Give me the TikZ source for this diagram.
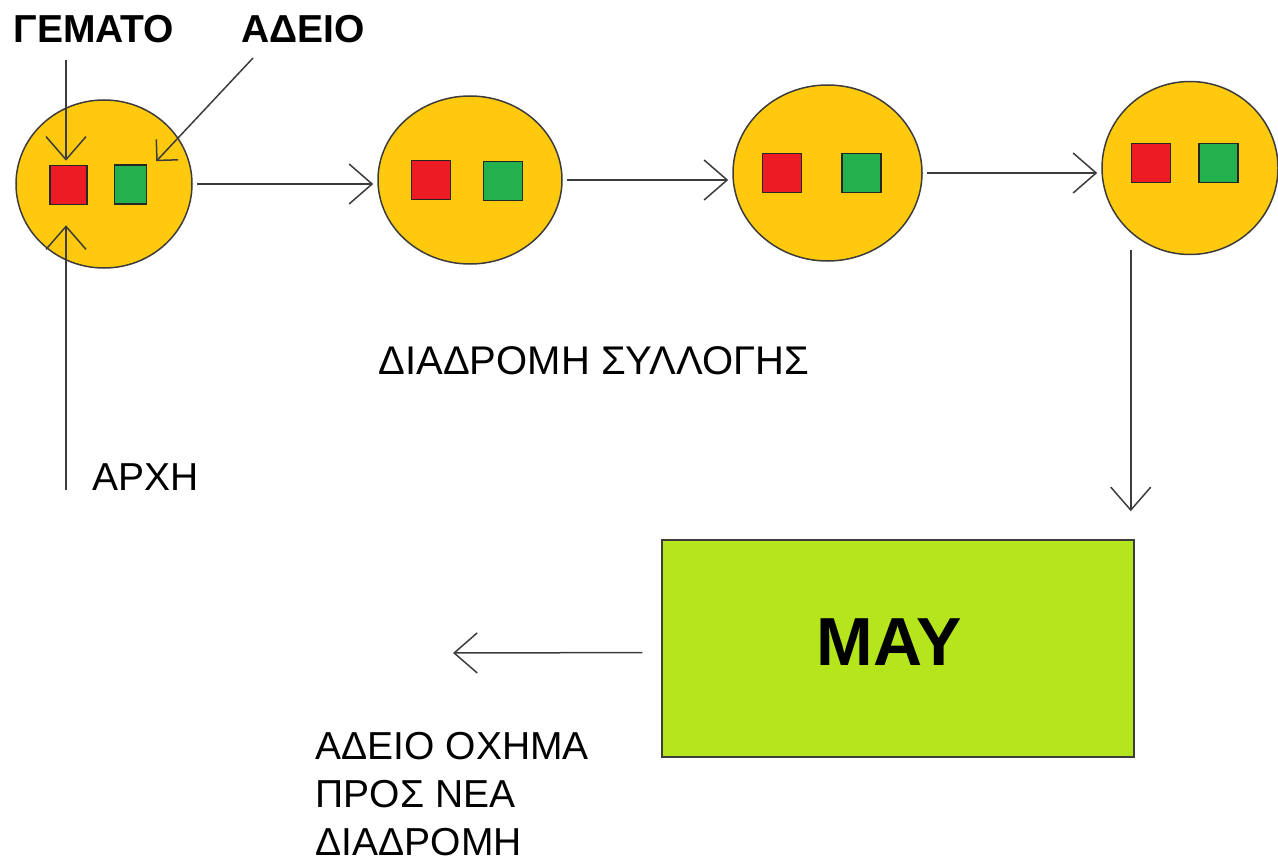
\documentclass[tikz,border=0pt]{standalone}
\usepackage{fontspec}
\setmainfont{Liberation Sans}
\usetikzlibrary{arrows.meta, positioning, shapes.geometric}

\definecolor{binorange}{HTML}{FFC90E}
\definecolor{fullred}{HTML}{ED1C24}
\definecolor{emptygreen}{HTML}{22B14C}
\definecolor{depotlime}{HTML}{B5E61D}
\definecolor{linegray}{HTML}{3C3C3C}

\begin{document}
\begin{tikzpicture}[x=0.5pt,y=-0.5pt,line width=0.75pt,
        flow/.style={linegray,shorten >=2pt,-{Straight Barb[length=11.5pt,width=20pt]}},
        pointer/.style={linegray,-{Straight Barb[length=7.5pt,width=15pt]}},
        stop/.style={ellipse,draw=linegray,fill=binorange,inner sep=0pt},
        bin/.style={draw=black!85,minimum width=19.5pt,minimum height=19.5pt,inner sep=0pt},
        fullbin/.style={bin,fill=fullred},
        emptybin/.style={bin,fill=emptygreen},
        greek/.style={font=\fontsize{19.5}{24}\selectfont,inner sep=0pt}]

      \useasboundingbox (0,0) rectangle (1278,861);

      % collection stops
      \node[stop,minimum width=88pt,minimum height=84pt]   (c1) at (104,184)   {};
      \node[stop,minimum width=92pt,minimum height=84pt]   (c2) at (470,180)   {};
      \node[stop,minimum width=94.5pt,minimum height=88pt] (c3) at (827.5,173) {};
      \node[stop,minimum width=88pt,minimum height=86.5pt] (c4) at (1190,168)  {};

      \node[fullbin,minimum width=18.5pt]  (r1) at (68.5,185)  {};
      \node[emptybin,minimum width=16pt]   (g1) at (130.5,184.5) {};
      \node[fullbin]  (r2) at (431,180)   {};
      \node[emptybin] (g2) at (503,181)   {};
      \node[fullbin]  (r3) at (782,173)   {};
      \node[emptybin] (g3) at (861.5,173) {};
      \node[fullbin]  (r4) at (1151,163)  {};
      \node[emptybin] (g4) at (1218.5,163) {};

      % depot
      \node[draw=linegray,fill=depotlime,minimum width=236pt,minimum height=108.5pt] (depot) at (898,648.5) {};
      \node[font=\bfseries\fontsize{34}{40}\selectfont,inner sep=0pt] (may) at (889,642) {ΜΑΥ};

      % labels
      \node[greek,font=\bfseries\fontsize{19.5}{24}\selectfont,anchor=base west] (full)  at (13,43)  {ΓΕΜΑΤΟ};
      \node[greek,font=\bfseries\fontsize{19.5}{24}\selectfont,anchor=base west] (empty) at (241,43) {ΑΔΕΙΟ};
      \node[greek,anchor=base west] (start) at (92,490)  {ΑΡΧΗ};
      \node[greek,anchor=base west,font=\fontsize{20}{24}\selectfont] (route) at (378,374) {ΔΙΑΔΡΟΜΗ ΣΥΛΛΟΓΗΣ};
      \node[greek,anchor=north west,align=left] (back) at (315,732)
            {ΑΔΕΙΟ ΟΧΗΜΑ\\ΠΡΟΣ ΝΕΑ\\ΔΙΑΔΡΟΜΗ};

      \coordinate (fulltail)  at (66,60);
      \coordinate (emptytail) at (253,58);
      \coordinate (starttail) at (66,490);
      \coordinate (backtip)   at (453,653);

      % route
      \path[flow,shorten <=2pt] (c1.east) edge (c1.east -| c2.west)
                                (c2.east) edge (c2.east -| c3.west)
                                (c3.east) edge (c3.east -| c4.west);
      \draw[flow,shorten >=14pt] ([xshift=-2pt,yshift=2.5pt]c4.south -| depot.north east)
                                 -- ([xshift=-2pt]depot.north east);
      \draw[flow,shorten >=0pt,shorten <=9.5pt] ([yshift=-2pt]depot.west) -- (backtip);

      % pointers to the bins
      \draw[flow] (fulltail) -- (fulltail |- r1.north);
      \draw[pointer] (emptytail) -- ([shift={(4.5pt,1.5pt)}]g1.north east);
      \draw[flow,shorten >=10pt] (starttail) -- (starttail |- r1.south);
\end{tikzpicture}
\end{document}
